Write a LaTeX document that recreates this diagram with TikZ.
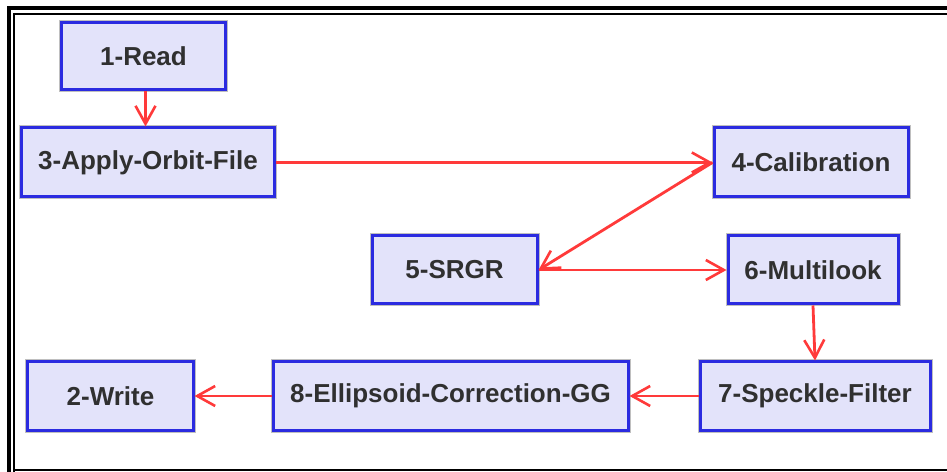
\documentclass[tikz,border=0pt]{standalone}
\usepackage{fontspec}
\setmainfont{Liberation Sans}
\usetikzlibrary{arrows.meta}
\definecolor{boxfill}{HTML}{E3E3FA}
\definecolor{boxline}{HTML}{2B2BE0}
\definecolor{txt}{HTML}{303030}
\definecolor{arr}{HTML}{FF3A3A}
\begin{document}
\begin{tikzpicture}[x=1bp,y=-1bp,
  proc/.style={draw=boxline, line width=3bp, fill=boxfill, inner sep=0pt,
    preaction={draw=black!25, line width=5bp},
    text=txt, font=\fontsize{26bp}{28bp}\selectfont\bfseries},
  flow/.style={draw=arr, line width=2.8bp, -{Straight Barb[length=18bp,width=20bp,line width=2.6bp]}}]
\useasboundingbox (0,0) rectangle (947,472);
% frame
\draw[line width=4bp] (9.3,472) -- (9.3,8) -- (947,8);
\draw[line width=2bp] (14.3,472) -- (14.3,14.3) -- (947,14.3);
\draw[line width=2bp] (14.3,470.3) -- (947,470.3);
% nodes
\node[proc, minimum width=163bp, minimum height=67bp] (n1) at (143.5,56.5) {1-Read};
\node[proc, minimum width=252bp, minimum height=69bp] (n3) at (148,162.5) {3-Apply-Orbit-File};
\node[proc, minimum width=194bp, minimum height=69bp] (n4) at (811,162.5) {4-Calibration};
\node[proc, minimum width=165bp, minimum height=68bp] (n5) at (454.5,270) {5-SRGR};
\node[proc, minimum width=170bp, minimum height=68bp] (n6) at (813,270) {6-Multilook};
\node[proc, minimum width=230bp, minimum height=68bp] (n7) at (815,396) {7-Speckle-Filter};
\node[proc, minimum width=355bp, minimum height=68bp] (n8) at (450.5,396) {8-Ellipsoid-Correction-GG};
\node[proc, minimum width=165bp, minimum height=68bp] (n2) at (110.5,396) {2-Write};
% connectors
\draw[flow] ([xshift=2bp]n1.south) -- ([xshift=2bp]n1.south |- n3.north);
\draw[flow] (n3.east) -- (n4.west);
\draw[flow] (n4.west) -- (n5.east);
\draw[flow] (n5.east) -- (n6.west);
\draw[flow] (n6.south) -- (n7.north);
\draw[flow] (n7.west) -- (n8.east);
\draw[flow] (n8.west) -- (n2.east);
\end{tikzpicture}
\end{document}
